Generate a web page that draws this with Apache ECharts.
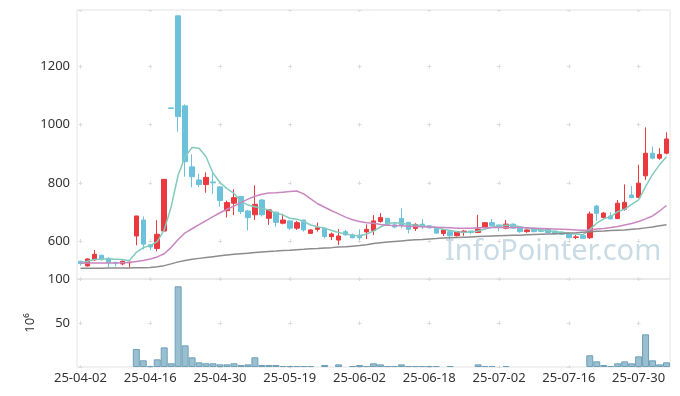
<!DOCTYPE html>
<html>
<head>
<meta charset="utf-8">
<script src="https://cdn.jsdelivr.net/npm/echarts@6/dist/echarts.min.js"></script>
<style>
html,body{margin:0;padding:0;background:#ffffff;}
#c{width:680px;height:396px;}
</style>
</head>
<body>
<div id="c"></div>
<script>
const dates = ['25-04-02','25-04-03','25-04-04','25-04-07','25-04-08','25-04-09','25-04-10','25-04-11','25-04-14','25-04-15',
'25-04-16','25-04-17','25-04-18','25-04-21','25-04-22','25-04-23','25-04-24','25-04-25','25-04-28','25-04-29',
'25-04-30','25-05-02','25-05-07','25-05-08','25-05-09','25-05-12','25-05-13','25-05-14','25-05-15','25-05-16',
'25-05-19','25-05-20','25-05-21','25-05-22','25-05-23','25-05-26','25-05-27','25-05-28','25-05-29','25-05-30',
'25-06-02','25-06-04','25-06-05','25-06-09','25-06-10','25-06-11','25-06-12','25-06-13','25-06-16','25-06-17',
'25-06-18','25-06-19','25-06-20','25-06-23','25-06-24','25-06-25','25-06-26','25-06-27','25-06-30','25-07-01',
'25-07-02','25-07-03','25-07-04','25-07-07','25-07-08','25-07-09','25-07-10','25-07-11','25-07-14','25-07-15',
'25-07-16','25-07-17','25-07-18','25-07-21','25-07-22','25-07-23','25-07-24','25-07-25','25-07-28','25-07-29',
'25-07-30','25-07-31','25-08-01','25-08-04','25-08-05'];

const opens = [530,514,535,551,540,526,521,525,617,672,
587,574,634,1058,1375,1065,855,810,794,803,
786,704,730,753,703,690,741,678,699,661,
669,644,672,626,640,644,615,603,632,621,
620,631,636,667,678,655,678,664,643,658,
652,644,626,632,618,629,634,629,646,663,
655,644,658,644,632,644,638,641,634,630,
626,612,618,611,720,681,686,677,709,758,
750,824,902,885,902];
const closes = [522,538,554,537,525,522,530,527,686,589,
579,623,812,1056,1028,873,821,794,819,800,
739,732,749,701,680,726,690,707,664,672,
644,663,638,638,645,615,624,617,621,611,
611,640,669,681,654,648,653,640,657,649,
645,627,638,618,632,634,629,641,663,652,
649,658,644,632,638,632,633,629,624,623,
611,614,609,693,695,696,676,730,733,749,
799,902,885,898,951];
const lows = [515,512,531,532,508,512,517,508,585,571,
569,564,632,1056,976,821,785,785,766,762,
718,681,689,693,636,672,684,655,649,657,
638,638,632,624,632,609,603,586,617,609,
603,606,620,663,652,644,644,626,634,641,
643,625,617,606,615,618,623,627,644,651,
634,640,642,628,628,630,630,627,622,620,
609,606,607,607,669,678,674,675,704,747,
747,810,881,879,898];
const highs = [532,540,569,552,544,529,533,528,686,684,
589,671,812,1058,1375,1070,898,831,836,833,
789,739,778,755,707,792,745,710,701,693,
672,669,673,641,663,645,629,641,638,626,
640,657,689,696,679,664,712,665,661,675,
654,646,640,633,633,638,635,690,664,675,
656,672,660,645,640,646,642,643,636,632,
629,620,620,701,724,699,699,741,795,789,
862,991,925,919,974];

const ma5 = [525,530,536,538,538,537,536,532,561,577,
584,598,638,718,827,890,922,919,890,833,
801,780,764,735,724,718,712,707,695,690,
678,675,667,655,649,644,636,629,624,620,
617,624,634,648,660,663,661,657,655,653,
649,646,640,636,632,630,631,634,641,647,
652,654,654,649,644,640,638,636,632,630,
626,624,621,640,661,676,684,701,709,726,
741,787,829,862,890];
const ma20 = [523,524,524,524,524,524,525,526,529,533,
538,545,556,578,605,628,642,656,670,684,
697,709,720,732,744,754,761,765,766,768,
770,772,762,745,728,716,704,693,682,673,
667,663,661,657,654,653,652,651,650,649,
648,647,646,645,644,644,644,645,645,646,
646,646,646,646,645,644,643,642,641,640,
639,638,637,638,641,643,646,650,655,660,
667,676,686,703,722];
const maLong = [506,506,506,506,507,507,507,507,508,508,
509,511,515,521,528,533,537,540,543,546,
549,552,554,556,558,560,562,564,565,567,
568,570,571,573,574,576,577,579,580,582,
584,587,591,594,596,598,600,602,604,605,
607,608,610,611,612,613,614,615,616,617,
618,619,620,620,621,622,623,624,625,626,
627,628,630,632,633,634,636,637,638,640,
642,645,648,652,656];

const volumes = [0,0,0,0,0,0,0,0,20.5,7.6,
1.1,8.7,22.3,4.2,91.7,24.6,11.0,5.3,4.2,4.2,
3.0,3.0,4.2,2.3,3.0,11.0,2.3,2.3,2.3,1.1,
1.1,1.1,1.1,1.1,0,2.3,0,3.0,0,1.1,
2.3,1.1,4.2,3.0,1.1,1.1,3.0,1.1,1.1,1.1,
1.1,1.1,0,1.1,0,0,0,3.0,1.1,1.1,
0,1.1,0,0,0,0,0,0,0,0,
0,0,0,13.3,6.4,2.3,1.1,4.2,6.4,4.2,
12.1,37.1,7.6,3.0,5.3];

const candleData = dates.map((d, i) => [opens[i], closes[i], lows[i], highs[i]]);
const volumeData = volumes.map(v => v > 0 ? v : { value: v, itemStyle: { borderWidth: 0 } });

const FONT = '"Noto Sans", sans-serif';
const crossColor = '#dcdcdc';
const hDash = { color: crossColor, width: 1, type: [4, 65.76], dashOffset: 68.27 };

const chart = echarts.init(document.getElementById('c'), null, { renderer: 'canvas' });
chart.setOption({
  animation: false,
  backgroundColor: '#ffffff',
  grid: [
    { left: 77, right: 10, top: 10, height: 269, show: true, borderColor: '#e3e3e3', borderWidth: 1 },
    { left: 77, right: 10, top: 279, height: 88, show: true, borderColor: '#e3e3e3', borderWidth: 1 }
  ],
  graphic: [{
    type: 'text', left: 445, top: 237, z: 0,
    style: { text: 'InfoPointer.com', font: '29px "Noto Sans"', fill: '#c9dbe4' }
  }],
  xAxis: [
    {
      type: 'category', gridIndex: 0, data: dates, boundaryGap: true,
      axisLine: { show: false }, axisTick: { show: false }, axisLabel: { show: false },
      splitLine: { show: true, interval: 9, alignWithLabel: true,
        lineStyle: { color: crossColor, width: 1, type: [2, 52.65, 4, 54.1, 4, 54.1, 4, 54.1, 4, 34.05, 6, 200] } }
    },
    {
      type: 'category', gridIndex: 1, data: dates, boundaryGap: true,
      axisLine: { show: false }, axisTick: { show: false },
      axisLabel: { interval: 9, color: '#333', fontSize: 13, fontFamily: FONT, margin: 5 },
      splitLine: { show: true, interval: 9, alignWithLabel: true,
        lineStyle: { color: crossColor, width: 1, type: [2, 40, 4, 40, 6, 100] } }
    }
  ],
  yAxis: [
    {
      type: 'value', gridIndex: 0, min: 469, max: 1395, scale: true,
      axisLine: { show: false }, axisTick: { show: false },
      axisLabel: { color: '#333', fontSize: 13, fontFamily: FONT, showMinLabel: false, showMaxLabel: false, margin: 7,
        formatter: v => String(v) },
      splitLine: { show: true, lineStyle: hDash }
    },
    {
      type: 'value', gridIndex: 1, min: 0, max: 100, interval: 50,
      name: '10⁶', nameLocation: 'middle', nameRotate: 90, nameGap: 33,
      nameTextStyle: { color: '#333', fontSize: 13, fontFamily: FONT },
      axisLine: { show: false }, axisTick: { show: false },
      axisLabel: { color: '#333', fontSize: 13, fontFamily: FONT, showMinLabel: false, margin: 7,
        formatter: v => String(v) },
      splitLine: { show: true, lineStyle: hDash }
    }
  ],
  series: [
    {
      type: 'candlestick', xAxisIndex: 0, yAxisIndex: 0, data: candleData, barWidth: 5,
      itemStyle: { color: '#ea3a3f', color0: '#6cc2da', borderColor: '#ea3a3f', borderColor0: '#6cc2da', borderWidth: 1 }
    },
    { type: 'line', xAxisIndex: 0, yAxisIndex: 0, data: ma5, symbol: 'none', lineStyle: { color: '#82cbbe', width: 1.5 } },
    { type: 'line', xAxisIndex: 0, yAxisIndex: 0, data: ma20, symbol: 'none', lineStyle: { color: '#c986c0', width: 1.5 } },
    { type: 'line', xAxisIndex: 0, yAxisIndex: 0, data: maLong, symbol: 'none', lineStyle: { color: '#8c8c8c', width: 1.5 } },
    {
      type: 'bar', xAxisIndex: 1, yAxisIndex: 1, data: volumeData, barCategoryGap: '0%',
      itemStyle: { color: '#99bfd0', borderColor: '#6e9fb6', borderWidth: 1 }
    }
  ]
});
</script>
</body>
</html>
